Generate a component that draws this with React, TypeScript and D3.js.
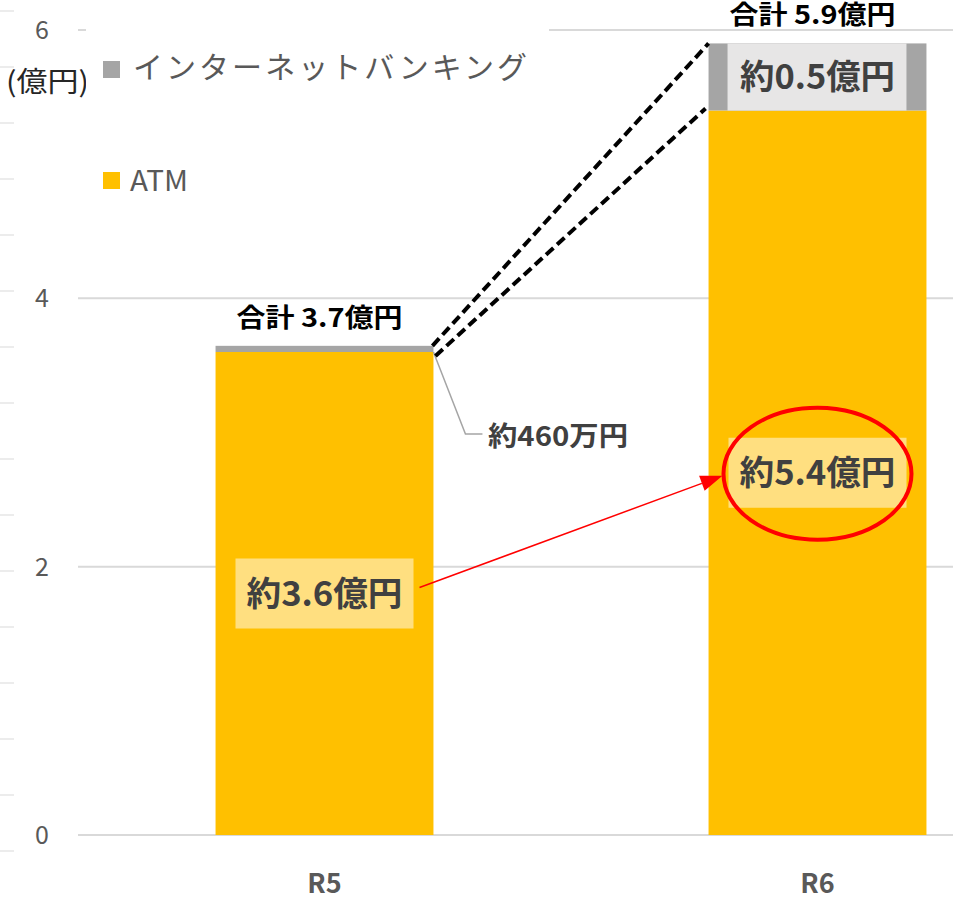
import React from 'react';
import * as d3 from 'd3';

const categories = ['R5', 'R6'];
const atmValues = [3.6, 5.4];
const ibValues = [0.046, 0.5];
const totalLabels = ['合計 3.7億円', '合計 5.9億円'];
const atmLabels = ['約3.6億円', '約5.4億円'];
const ibLabels = ['約460万円', '約0.5億円'];
const yTicks = [0, 2, 4, 6];
const seriesNames = ['インターネットバンキング', 'ATM'];

const W = 953;
const H = 904;
const FONT = '"Noto Sans CJK JP", "Noto Sans", sans-serif';
const ATM_COLOR = '#FFC000';
const IB_COLOR = '#A5A5A5';

export default function App() {
  const y = d3.scaleLinear().domain([0, 6]).range([835, 30]);
  const x = d3
    .scaleBand<string>()
    .domain(categories)
    .range([78, 1064])
    .paddingInner(0.558)
    .paddingOuter(0.279);
  const bw = x.bandwidth();

  const sideMarks = d3.range(11, 860, 56);

  const r5 = categories[0];
  const r6 = categories[1];
  const r5Right = (x(r5) as number) + bw;
  const r6Left = x(r6) as number;
  const tot = atmValues.map((v, i) => v + ibValues[i]);

  // arrow
  const ax0 = (x(r5) as number) + bw / 2 + 95;
  const ay0 = y(atmValues[0] / 2) - 6;
  const ex = (x(r6) as number) + bw / 2;
  const ey = y(atmValues[1] / 2);
  const ax1 = ex - 95;
  const ay1 = ey + 3;
  const ang = Math.atan2(ay1 - ay0, ax1 - ax0);
  const hl = 22;
  const hw = 8;
  const bx = ax1 - hl * Math.cos(ang);
  const by = ay1 - hl * Math.sin(ang);
  const arrowHead = [
    [ax1, ay1],
    [bx + hw * Math.sin(ang), by - hw * Math.cos(ang)],
    [bx - hw * Math.sin(ang), by + hw * Math.cos(ang)],
  ]
    .map((p) => p.join(','))
    .join(' ');

  return (
    <svg
      width={W}
      height={H}
      style={{ position: 'absolute', left: 0, top: 0, background: '#fff' }}
      fontFamily={FONT}
    >
      {/* side marks */}
      {sideMarks.map((m) => (
        <line key={m} x1={0} x2={14} y1={m} y2={m} stroke="#d9d9d9" strokeWidth={1} />
      ))}
      {/* gridlines */}
      {yTicks.map((t) => (
        <line
          key={t}
          x1={78}
          x2={W}
          y1={y(t)}
          y2={y(t)}
          stroke="#d9d9d9"
          strokeWidth={2}
        />
      ))}
      {yTicks.map((t) => (
        <text
          key={'t' + t}
          x={42}
          y={y(t)}
          dy="0.36em"
          textAnchor="middle"
          fontSize={25}
          fill="#595959"
        >
          {t}
        </text>
      ))}
      <text x={6} y={92} fontSize={28} fill="#262626" textLength={83} lengthAdjust="spacingAndGlyphs">
        (億円)
      </text>

      {/* bars */}
      {categories.map((c, i) => (
        <g key={c}>
          <rect
            x={x(c)}
            width={bw}
            y={y(atmValues[i])}
            height={y(0) - y(atmValues[i])}
            fill={ATM_COLOR}
          />
          <rect
            x={x(c)}
            width={bw}
            y={y(tot[i])}
            height={y(atmValues[i]) - y(tot[i])}
            fill={IB_COLOR}
          />
          <text
            x={(x(c) as number) + bw / 2 - 5}
            y={y(tot[i]) - 19}
            textAnchor="middle"
            fontSize={26}
            fontWeight="bold"
            fill="#000"
            textLength={166}
            lengthAdjust="spacingAndGlyphs"
          >
            {totalLabels[i]}
          </text>
          <text
            x={(x(c) as number) + bw / 2}
            y={893}
            textAnchor="middle"
            fontSize={27}
            fontWeight="bold"
            fill="#595959"
          >
            {c}
          </text>
        </g>
      ))}

      {/* legend with white background covering top gridline */}
      <rect x={86} y={20} width={463} height={180} fill="#fff" />
      <rect x={103} y={61} width={17} height={17} fill={IB_COLOR} />
      <text
        x={133}
        y={78}
        fontSize={30}
        fill="#595959"
        textLength={394}
        lengthAdjust="spacing"
      >
        {seriesNames[0]}
      </text>
      <rect x={103} y={172} width={17} height={17} fill={ATM_COLOR} />
      <text x={130} y={191} fontSize={28} fill="#595959" textLength={58} lengthAdjust="spacingAndGlyphs">
        {seriesNames[1]}
      </text>

      {/* ATM labels */}
      {categories.map((c, i) => {
        const cx = (x(c) as number) + bw / 2;
        const cy = y(atmValues[i] / 2);
        return (
          <g key={'l' + c}>
            <rect x={cx - 89} y={cy - 35} width={178} height={70} fill="#FFDF80" />
            <text
              x={cx}
              y={cy}
              dy="0.36em"
              textAnchor="middle"
              fontSize={34}
              fontWeight="bold"
              fill="#404040"
              textLength={156}
              lengthAdjust="spacingAndGlyphs"
            >
              {atmLabels[i]}
            </text>
          </g>
        );
      })}

      {/* IB R6 label */}
      <rect
        x={(x(r6) as number) + 19}
        y={y(tot[1])}
        width={bw - 39}
        height={y(atmValues[1]) - y(tot[1])}
        fill="#E7E6E6"
      />
      <text
        x={(x(r6) as number) + bw / 2}
        y={y(atmValues[1] + ibValues[1] / 2)}
        dy="0.36em"
        textAnchor="middle"
        fontSize={34}
        fontWeight="bold"
        fill="#404040"
        textLength={155}
        lengthAdjust="spacingAndGlyphs"
      >
        {ibLabels[1]}
      </text>

      {/* IB R5 label with leader */}
      <polyline
        points={`${r5Right},${y(atmValues[0])} ${r5Right + 32},${434} ${r5Right + 49},${434}`}
        fill="none"
        stroke="#A5A5A5"
        strokeWidth={1.5}
      />
      <text
        x={488}
        y={446}
        fontSize={27}
        fontWeight="bold"
        fill="#404040"
        textLength={140}
        lengthAdjust="spacingAndGlyphs"
      >
        {ibLabels[0]}
      </text>

      {/* dashed connectors */}
      <line
        x1={r5Right - 1}
        y1={y(tot[0])}
        x2={r6Left}
        y2={y(tot[1])}
        stroke="#000"
        strokeWidth={4}
        strokeDasharray="10 5"
      />
      <line
        x1={r5Right + 2}
        y1={y(atmValues[0]) + 4}
        x2={r6Left - 3}
        y2={y(atmValues[1]) - 2}
        stroke="#000"
        strokeWidth={4}
        strokeDasharray="10 5"
      />

      {/* arrow */}
      <line x1={ax0} y1={ay0} x2={bx} y2={by} stroke="#FF0000" strokeWidth={1.5} />
      <polygon points={arrowHead} fill="#FF0000" />

      {/* ellipse */}
      <ellipse cx={ex} cy={ey + 1} rx={94} ry={66} fill="none" stroke="#FF0000" strokeWidth={4} />
    </svg>
  );
}
